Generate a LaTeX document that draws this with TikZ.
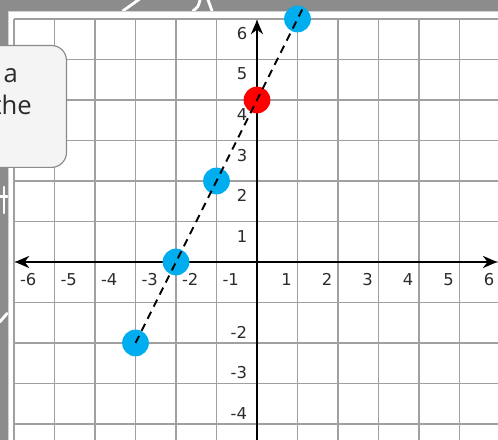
\documentclass[tikz,border=0pt]{standalone}
\usepackage{fontspec}
\setmainfont{DejaVu Sans}
\newfontfamily\boxfont{Open Sans}
\usetikzlibrary{arrows.meta}
\definecolor{chalk}{HTML}{8C8C8C}
\definecolor{gridgray}{HTML}{A0A0A0}
\definecolor{dotblue}{HTML}{00AEEF}
\definecolor{dotred}{HTML}{FF0000}
\definecolor{boxfill}{HTML}{F4F4F4}
\definecolor{boxline}{HTML}{8A8A8A}
\definecolor{labelgray}{HTML}{2B2B2B}
\begin{document}
\begin{tikzpicture}[
    gridline/.style={gridgray, line width=1.2pt},
    axisline/.style={black, line width=1.6pt},
    ticklabel/.style={labelgray, font=\fontsize{11.5}{13}\selectfont, inner sep=0pt},
    bluedot/.style={circle, fill=dotblue, minimum size=0.66cm, inner sep=0pt},
    reddot/.style={circle, fill=dotred, minimum size=0.66cm, inner sep=0pt},
    dashline/.style={black, line width=1.4pt, dash pattern=on 5.5pt off 4pt},
    chalkmark/.style={white, line width=2pt, line cap=round},
    boxtext/.style={anchor=base east, inner sep=0pt, text=labelgray, font=\boxfont\fontsize{18}{20}\selectfont}
  ]
  \useasboundingbox (-6.346,-4.395) rectangle (5.951,6.469);
  \fill[chalk] (-6.346,-4.395) rectangle (5.951,6.469);
  \draw[chalkmark] (-3.31,6.2) -- (-2.89,6.5);
  \draw[chalkmark] (-1.58,6.2) .. controls (-1.45,6.3) .. (-1.4,6.5);
  \draw[chalkmark] (-1.11,6.2) -- (-1.22,6.5);
  \draw[chalkmark] (-6.247,1.85) -- (-6.247,1.21);
  \draw[chalkmark] (-6.35,1.62) -- (-6.17,1.62);
  \draw[chalkmark] (-6.35,-1.48) -- (-6.17,-1.27);
  \fill[white, draw=gray!35] (-6.15,-5) rectangle (6.5,6.2);
  \draw[gridline] (-6,-5) grid (6.5,6);

  \coordinate (xleft) at (-5.975,0);
  \coordinate (xright) at (5.93,0);
  \coordinate (ytop) at (0,5.975);
  \coordinate (ybottom) at (0,-4.6);
  \draw[axisline, {Stealth[length=10pt,width=8.5pt]}-{Stealth[length=10pt,width=8.5pt]}] (xleft) -- (xright);
  \draw[axisline, -{Stealth[length=10pt,width=8.5pt]}] (ybottom) -- (ytop);

  \foreach \x in {-6,...,-1}
    \node[ticklabel] (xt\x) at (\x+0.35,-0.44) {\x};
  \foreach \x in {1,...,6}
    \node[ticklabel] (xt\x) at (\x-0.27,-0.44) {\x};
  \foreach \y in {1,...,6}
    \node[ticklabel] (yt\y) at (-0.37,\y-0.36) {\y};
  \foreach \y in {-4,-3,-2}
    \node[ticklabel, anchor=east] (yt\y) at (-0.24,\y+0.26) {\y};

  \node[draw=boxline, fill=boxfill, rounded corners=0.37cm, line width=0.8pt,
    minimum width=2.6cm, minimum height=3.01cm, anchor=north east] (infobox) at (-4.69,5.36) {};
  \node[boxtext] (linea) at (-5.9,4.42) {a};
  \node[boxtext] (lineb) at (-5.556,3.63) {the};

  \node[bluedot] (pA) at (-3,-2) {};
  \node[bluedot] (pB) at (-2,0) {};
  \node[bluedot] (pC) at (-1,2) {};
  \node[reddot] (pD) at (0,4) {};
  \node[bluedot] (pE) at (1,6) {};
  \draw[dashline, shorten >=-0.28cm] (pA.center) -- (pE.center);
\end{tikzpicture}
\end{document}
